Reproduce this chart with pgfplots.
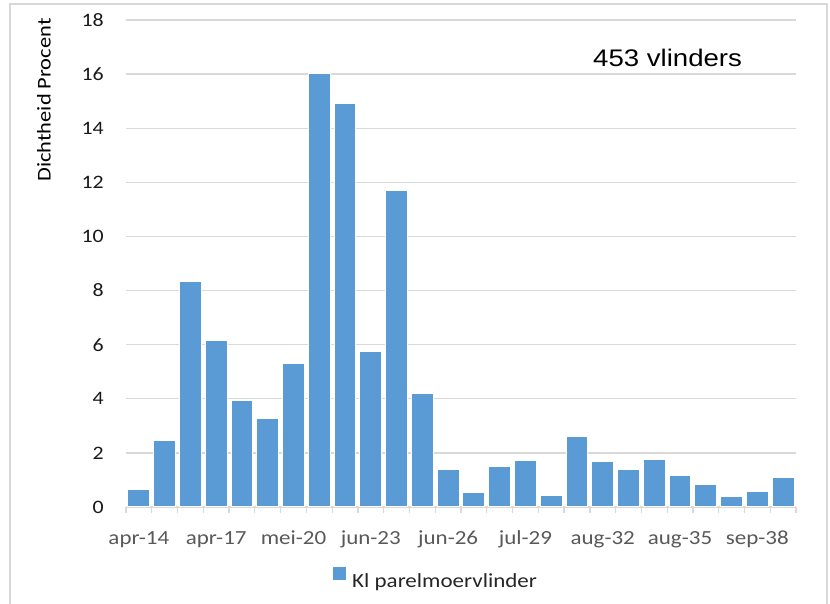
\documentclass[border=0pt]{standalone}
\usepackage{fontspec}
\setmainfont[FakeStretch=1.15]{Carlito}
\newfontfamily\arialfont[FakeStretch=1.15]{Liberation Sans}
\usepackage{pgfplots}
\pgfplotsset{compat=1.18}
\definecolor{barblue}{HTML}{5B9BD5}
\definecolor{gridgray}{HTML}{D9D9D9}
\definecolor{ticktext}{HTML}{595959}
\definecolor{darktext}{HTML}{262626}
\begin{document}
\begin{tikzpicture}[x=1pt,y=1pt]
\useasboundingbox[fill=white] (0,0) rectangle (830,604);
\draw[gridgray, line width=2pt] (10,-5) -- (10,600) -- (827,600) -- (827,-5);
\begin{axis}[
  at={(126pt,97pt)}, anchor=south west, scale only axis,
  width=670pt, height=487pt,
  xmin=-0.5, xmax=25.5, ymin=0, ymax=18,
  ytick={0,2,...,18},
  xtick={0,3,...,24},
  xticklabels={apr-14,apr-17,mei-20,jun-23,jun-26,jul-29,aug-32,aug-35,sep-38},
  minor xtick={-0.5,0.5,...,25.5},
  major tick length=0pt, minor tick length=6pt, tick align=outside,
  minor x tick style={gridgray, line width=1.3pt},
  ytick style={draw=none},
  axis x line*=bottom, axis y line*=left,
  x axis line style={-, gridgray, line width=1.3pt},
  y axis line style={draw=none},
  ymajorgrids, grid style={gridgray, line width=1.3pt},
  /pgf/number format/assume math mode=true,
  yticklabel style={anchor=east, inner sep=0pt, xshift=-22pt, font=\fontsize{19pt}{22pt}\selectfont, text=black!90},
  xticklabel style={anchor=base, inner sep=0pt, yshift=-38pt, font=\fontsize{20pt}{24pt}\selectfont, text=ticktext},
  legend style={at={(0.309,-0.148)}, anchor=west, draw=none, fill=none, inner sep=0pt,
    font=\fontsize{20pt}{24pt}\selectfont, text=darktext},
  clip=false,
]
\addplot[ybar, bar width=0.85, fill=barblue, draw=white, line width=1pt,
  legend image code/.code={\fill[barblue] (0pt,1pt) rectangle (12pt,13pt); \path (16pt,7pt);}]
coordinates {
(0,0.64) (1,2.44) (2,8.35) (3,6.17) (4,3.92) (5,3.28) (6,5.31) (7,16.04)
(8,14.9) (9,5.73) (10,11.7) (11,4.21) (12,1.39) (13,0.53) (14,1.5) (15,1.73)
(16,0.41) (17,2.6) (18,1.69) (19,1.39) (20,1.76) (21,1.17) (22,0.82) (23,0.37)
(24,0.57) (25,1.1)};
\addlegendentry{Kl parelmoervlinder}
\end{axis}
\node[rotate=90, inner sep=0pt, font=\fontsize{19.5pt}{22pt}\selectfont] at (44,504) {Dichtheid Procent};
\node[anchor=base west, inner sep=0pt, font=\arialfont\fontsize{24pt}{28pt}\selectfont] at (593,537) {453 vlinders};
\end{tikzpicture}
\end{document}
